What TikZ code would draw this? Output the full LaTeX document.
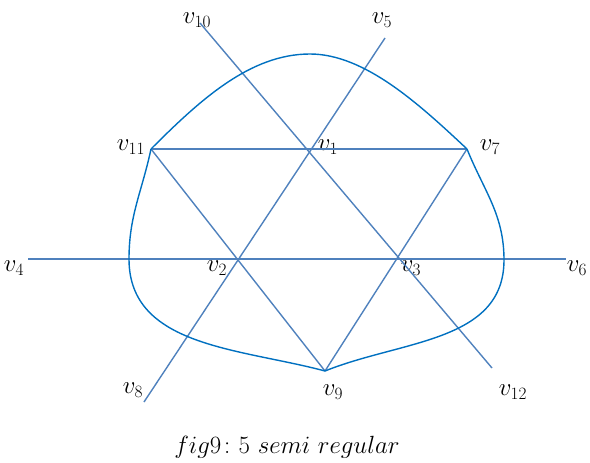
\documentclass[tikz,border=0pt]{standalone}
\usepackage{amsmath}
\usepackage{tikz}
\usetikzlibrary{positioning, calc}
\definecolor{edgeblue}{RGB}{79,129,189}
\definecolor{curveblue}{RGB}{0,112,192}

\begin{document}
\begin{tikzpicture}[x=1pt, y=-1pt,
  vlab/.style={inner sep=0pt, font=\fontsize{26}{30}\selectfont},
  edge/.style={draw=edgeblue, line width=1.4pt},
  loopedge/.style={draw=curveblue, line width=1.4pt}
]
\useasboundingbox (0,0) rectangle (590,463);
% vertices
\coordinate (v1) at (308,149);
\coordinate (v2) at (236,259);
\coordinate (v3) at (400,259);
\coordinate (v4) at (28,259);
\coordinate (v5) at (385,38);
\coordinate (v6) at (566,259);
\coordinate (v7) at (467,149);
\coordinate (v8) at (144,402);
\coordinate (v9) at (325,371);
\coordinate (v10) at (200,23);
\coordinate (v11) at (151,149);
\coordinate (v12) at (492,368);
% labels
\node[vlab] (l1) at (328,147) {$v_1$};
\node[vlab] (l2) at (217,268) {$v_2$};
\node[vlab] (l3) at (411,268) {$v_3$};
\node[vlab] (l4) at (14,268) {$v_4$};
\node[vlab] (l5) at (382,20) {$v_5$};
\node[vlab] (l6) at (577,268) {$v_6$};
\node[vlab] (l7) at (490,147) {$v_7$};
\node[vlab] (l8) at (133,390) {$v_8$};
\node[vlab] (l9) at (333,392) {$v_9$};
\node[vlab] (l10) at (197,20) {$v_{10}$};
\node[vlab] (l11) at (131,147) {$v_{11}$};
\node[vlab] (l12) at (513,392) {$v_{12}$};
\node[vlab] (caption) at (287,447) {$fig9\colon 5\ semi\ regular$};
% straight edges
\draw[edge] (v11) -- (v7);
\draw[edge] (v4) -- (v6);
\draw[edge] (v10) -- (v12);
\draw[edge] (v5) -- (v8);
\draw[edge] (v11) -- (v9);
\draw[edge] (v7) -- (v9);
% curved edges
\draw[loopedge] (v11) .. controls (200,100) and (250,54) .. (310,54)
  .. controls (365,54) and (420,105) .. (v7);
\draw[loopedge] (v7) to[out=-68, in=90] (504,260) to[out=-90, in=22] (v9);
\draw[loopedge] (v11) to[out=-102, in=90] (129,259) to[out=-90, in=165] (v9);
\end{tikzpicture}
\end{document}
